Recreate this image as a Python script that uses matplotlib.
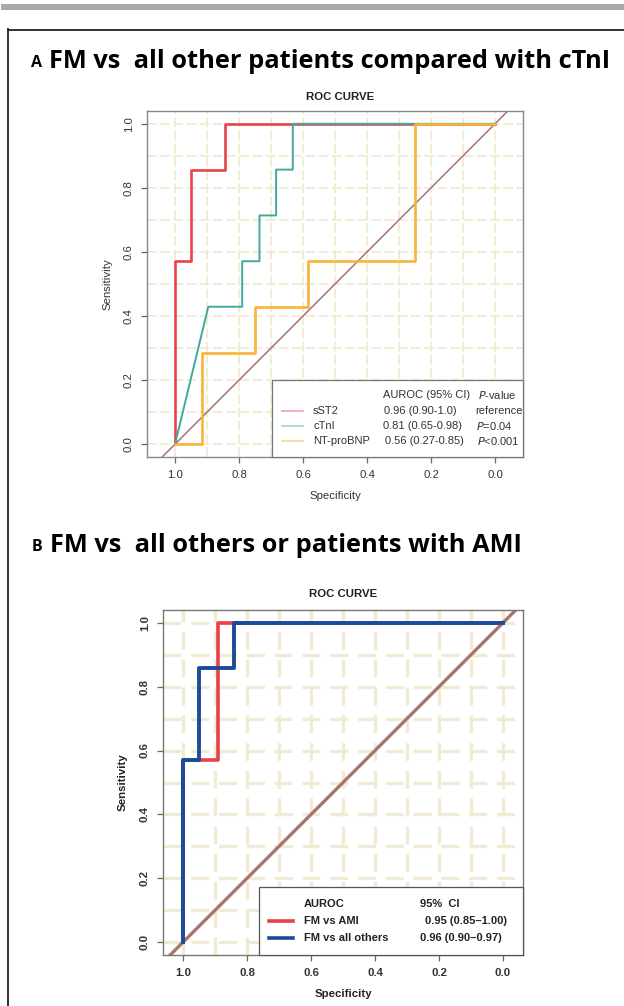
import matplotlib
matplotlib.use("Agg")
import matplotlib.pyplot as plt
from matplotlib.lines import Line2D
from matplotlib.patches import Rectangle

plt.rcParams['lines.scale_dashes'] = False

# ---------------- data ----------------
ticks = [1.0, 0.8, 0.6, 0.4, 0.2, 0.0]
tick_labels = ["1.0", "0.8", "0.6", "0.4", "0.2", "0.0"]
grid_vals = [1.0, 0.9, 0.8, 0.7, 0.6, 0.5, 0.4, 0.3, 0.2, 0.1, 0.0]

# Panel A
sst2_spec = [1.0, 1.0, 0.95, 0.95, 0.845, 0.845, 0.0]
sst2_sens = [0.0, 0.571, 0.571, 0.857, 0.857, 1.0, 1.0]
ctni_spec = [1.0, 0.896, 0.79, 0.79, 0.736, 0.736, 0.684, 0.684, 0.632, 0.632, 0.0]
ctni_sens = [0.0, 0.429, 0.429, 0.571, 0.571, 0.714, 0.714, 0.857, 0.857, 1.0, 1.0]
bnp_spec = [1.0, 0.917, 0.917, 0.75, 0.75, 0.583, 0.583, 0.25, 0.25, 0.0]
bnp_sens = [0.0, 0.0, 0.286, 0.286, 0.429, 0.429, 0.571, 0.571, 1.0, 1.0]
a_names = ["sST2", "cTnI", "NT-proBNP"]
a_auroc = ["0.96 (0.90-1.0)", "0.81 (0.65-0.98)", "0.56 (0.27-0.85)"]
a_pvals = ["reference", "$\\it{P}$=0.04", "$\\it{P}$<0.001"]

# Panel B
ami_spec = [1.0, 1.0, 0.89, 0.89, 0.0]
ami_sens = [0.0, 0.571, 0.571, 1.0, 1.0]
oth_spec = [1.0, 1.0, 0.95, 0.95, 0.842, 0.842, 0.0]
oth_sens = [0.0, 0.571, 0.571, 0.857, 0.857, 1.0, 1.0]
b_names = ["FM vs AMI", "FM vs all others"]
b_ci = ["0.95 (0.85\u20131.00)", "0.96 (0.90\u20130.97)"]

# ---------------- figure ----------------
W, H = 624, 1006
fig = plt.figure(figsize=(W / 100, H / 100), dpi=100)


def fx(px):
    return px / W


def fy(py):
    return 1 - py / H


def add_ax(l, t, r, b):
    return fig.add_axes([fx(l), fy(b), fx(r) - fx(l), (b - t) / H])


# outer decorations
fig.add_artist(Line2D([fx(4), fx(624)], [fy(6.5), fy(6.5)], color="#A9A9A9", lw=4.3))
fig.add_artist(Line2D([fx(7.5), fx(7.5)], [fy(29), fy(1006)], color="#222222", lw=1.3))
fig.add_artist(Line2D([fx(7.5), fx(624)], [fy(29.5), fy(29.5)], color="#222222", lw=1.3))

# panel titles
tfont = "Open Sans"
fig.text(fx(31), fy(63), "A", fontsize=11.5, fontweight="bold", family=tfont, va="center", ha="left")
fig.text(fx(49), fy(61), "FM vs  all other patients compared with cTnI", fontsize=18.3,
         fontweight="bold", family=tfont, va="center", ha="left")
fig.text(fx(32), fy(547), "B", fontsize=11.5, fontweight="bold", family=tfont, va="center", ha="left")
fig.text(fx(50), fy(545), "FM vs  all others or patients with AMI", fontsize=18.3,
         fontweight="bold", family=tfont, va="center", ha="left")

rfont = ["Liberation Sans", "DejaVu Sans"]


def setup(ax, xlim, grid_color, grid_lw, dashes, bold, box_color):
    ax.set_xlim(*xlim)
    ax.set_ylim(-0.04, 1.04)
    for g in grid_vals:
        ax.axvline(g, color=grid_color, lw=grid_lw, ls=(0, dashes), zorder=0)
        ax.axhline(g, color=grid_color, lw=grid_lw, ls=(0, dashes), zorder=0)
    for s in ax.spines.values():
        s.set_color(box_color)
        s.set_linewidth(1.0)
    ax.set_xticks(ticks)
    ax.set_xticklabels(tick_labels)
    ax.set_yticks(ticks)
    ax.set_yticklabels(tick_labels, rotation=90, va="center")
    w = "bold" if bold else "normal"
    ax.tick_params(length=4.5, width=0.9, color="#666666", labelsize=8.2, pad=5,
                   labelcolor="#333333")
    for lab in ax.get_xticklabels() + ax.get_yticklabels():
        lab.set_fontweight(w)
        lab.set_family(rfont)


# ---------------- Panel A ----------------
axA = add_ax(147, 111, 523, 457)
setup(axA, (1.0875, -0.0875), "#F0EAD0", 1.3, (7, 2.5), False, "#888888")
axA.plot([1.1, -0.1], [-0.1, 1.1], color="#A5707E", lw=1.1, zorder=2)
axA.plot(sst2_spec, sst2_sens, color="#E8434B", lw=1.9, zorder=3)
axA.plot(ctni_spec, ctni_sens, color="#3FAA9B", lw=1.4, zorder=4)
axA.plot(bnp_spec, bnp_sens, color="#F8B437", lw=1.9, zorder=5)
axA.set_ylabel("Sensitivity", fontsize=8.2, family=rfont, color="#333333", labelpad=8)
axA.set_xlabel("Specificity", fontsize=8.2, family=rfont, color="#333333", labelpad=8)
fig.text(fx(340), fy(97), "ROC CURVE", fontsize=8.2, fontweight="bold", family=rfont,
         ha="center", va="center", color="#222222")

# legend A (manual)
fig.add_artist(Rectangle((fx(272), fy(457)), fx(523) - fx(272), (457 - 380) / H,
                         transform=fig.transFigure, facecolor="white", edgecolor="#777777",
                         lw=0.9, zorder=10))
lfs = 8.0
fig.text(fx(383), fy(395), "AUROC (95% CI)", fontsize=lfs, family=rfont, va="center",
         ha="left", color="#333333", zorder=11)
fig.text(fx(478), fy(395), "$\\it{P}$-value", fontsize=lfs, family=rfont, va="center",
         ha="left", color="#333333", zorder=11)
a_line_colors = ["#EDA6B0", "#9ED6CE", "#FBD49A"]
a_rows = [411, 426, 441]
a_val_x = [384, 383, 385]
a_p_x = [475, 476, 477]
for i in range(3):
    yy = a_rows[i]
    fig.add_artist(Line2D([fx(282), fx(303)], [fy(yy), fy(yy)], color=a_line_colors[i],
                          lw=1.2, zorder=11))
    fig.text(fx(313), fy(yy), a_names[i], fontsize=lfs, family=rfont, va="center",
             ha="left", color="#333333", zorder=11)
    fig.text(fx(a_val_x[i]), fy(yy), a_auroc[i], fontsize=lfs, family=rfont, va="center",
             ha="left", color="#333333", zorder=11)
    fig.text(fx(a_p_x[i]), fy(yy), a_pvals[i], fontsize=lfs, family=rfont, va="center",
             ha="left", color="#333333", zorder=11)

# ---------------- Panel B ----------------
axB = add_ax(163, 610, 523, 955)
setup(axB, (1.0625, -0.0625), "#F1EBD5", 2.4, (13, 7), True, "#777777")
axB.plot([1.1, -0.1], [-0.1, 1.1], color="#A9736E", lw=2.4, zorder=2)
axB.plot(ami_spec, ami_sens, color="#E8414A", lw=2.6, zorder=3)
axB.plot(oth_spec, oth_sens, color="#1C4B9A", lw=2.8, zorder=4)
axB.set_ylabel("Sensitivity", fontsize=8.2, family=rfont, fontweight="bold", color="#222222",
               labelpad=9)
axB.set_xlabel("Specificity", fontsize=8.2, family=rfont, fontweight="bold", color="#222222",
               labelpad=8)
fig.text(fx(343), fy(594), "ROC CURVE", fontsize=8.2, fontweight="bold", family=rfont,
         ha="center", va="center", color="#222222")

fig.add_artist(Rectangle((fx(259), fy(955)), fx(523) - fx(259), (955 - 887) / H,
                         transform=fig.transFigure, facecolor="white", edgecolor="#555555",
                         lw=0.9, zorder=10))
bfs = 8.0
fig.text(fx(304), fy(904), "AUROC", fontsize=bfs, family=rfont, fontweight="bold",
         va="center", ha="left", color="#222222", zorder=11)
fig.text(fx(420), fy(904), "95%  CI", fontsize=bfs, family=rfont, fontweight="bold",
         va="center", ha="left", color="#222222", zorder=11)
b_line_colors = ["#E8414A", "#1C4B9A"]
b_rows = [921, 938]
b_ci_x = [425, 420]
for i in range(2):
    yy = b_rows[i]
    fig.add_artist(Line2D([fx(269), fx(293)], [fy(yy), fy(yy)], color=b_line_colors[i],
                          lw=2.6, zorder=11))
    fig.text(fx(304), fy(yy), b_names[i], fontsize=bfs, family=rfont, fontweight="bold",
             va="center", ha="left", color="#222222", zorder=11)
    fig.text(fx(b_ci_x[i]), fy(yy), b_ci[i], fontsize=bfs, family=rfont, fontweight="bold",
             va="center", ha="left", color="#222222", zorder=11)

fig.savefig("out.png", dpi=100)
